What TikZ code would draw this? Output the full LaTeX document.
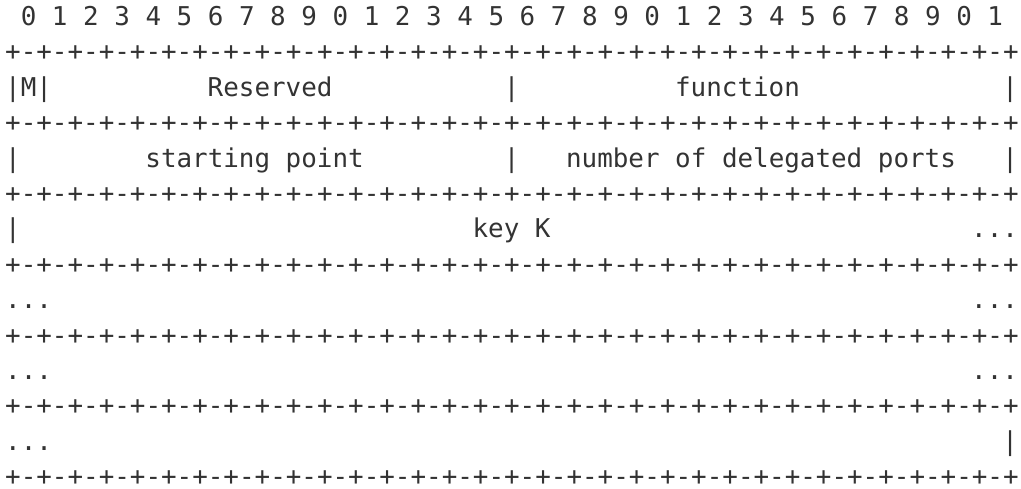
\documentclass[tikz,border=0pt]{standalone}
\usepackage{fontspec}
\newfontfamily\ascfont{DejaVu Sans Mono}
\definecolor{ink}{HTML}{333333}
\newcommand{\rulerow}{+-+-+-+-+-+-+-+-+-+-+-+-+-+-+-+-+-+-+-+-+-+-+-+-+-+-+-+-+-+-+-+-+}
\tikzset{asc/.style={anchor=base west, inner sep=0pt, outer sep=0pt, text=ink,
  font=\ascfont\fontsize{25.9}{30}\selectfont}}
\newcommand{\txt}[4]{\node[asc] (#1) at ({5.2+#2*15.58},{25.5+#3*35.4}) {#4};}
\begin{document}
\begin{tikzpicture}[x=1pt,y=-1pt]
\useasboundingbox (0,0) rectangle (1021,488);
% row 0: bit numbers
\txt{bits}{1}{0}{0 1 2 3 4 5 6 7 8 9 0 1 2 3 4 5 6 7 8 9 0 1 2 3 4 5 6 7 8 9 0 1}
% separator rows
\foreach \r in {1,3,5,7,9,11,13}{\txt{sep\r}{0}{\r}{\rulerow}}
% row 2
\txt{mbit}{0}{2}{|M|}
\txt{reserved}{13}{2}{Reserved}
\txt{bar2m}{32}{2}{|}
\txt{function}{43}{2}{function}
\txt{bar2r}{64}{2}{|}
% row 4
\txt{bar4l}{0}{4}{|}
\txt{start}{9}{4}{starting point}
\txt{bar4m}{32}{4}{|}
\txt{ndp}{36}{4}{number of delegated ports}
\txt{bar4r}{64}{4}{|}
% row 6
\txt{bar6l}{0}{6}{|}
\txt{key}{30}{6}{key K}
\txt{dots6r}{62}{6}{...}
% row 8
\txt{dots8l}{0}{8}{...}
\txt{dots8r}{62}{8}{...}
% row 10
\txt{dots10l}{0}{10}{...}
\txt{dots10r}{62}{10}{...}
% row 12
\txt{dots12l}{0}{12}{...}
\txt{bar12r}{64}{12}{|}
\end{tikzpicture}
\end{document}
